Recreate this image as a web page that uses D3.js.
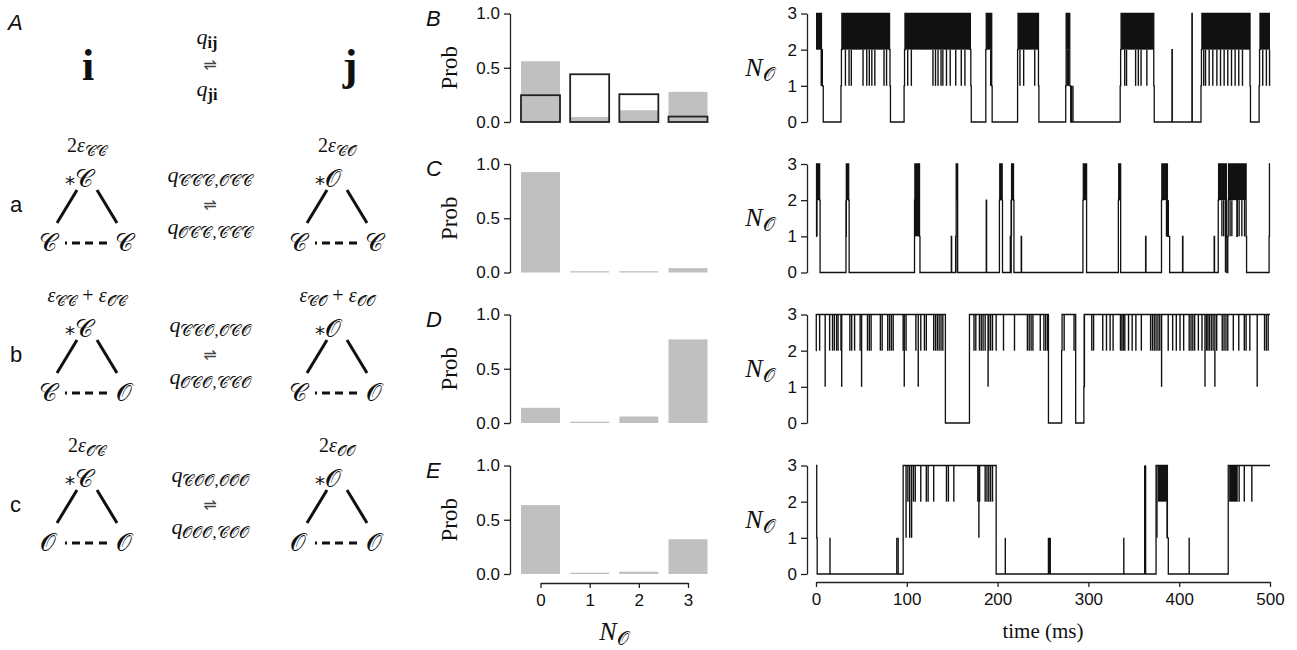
<!DOCTYPE html>
<html>
<head>
<meta charset="utf-8">
<script src="https://cdn.jsdelivr.net/npm/d3@7"></script>
<style>
  body { margin: 0; background: #fff; }
  svg { display: block; }
</style>
</head>
<body>
<div id="fig"></div>
<script>
// ---- data ----
const nOpen = [0, 1, 2, 3];
const probTicks = [0, 0.5, 1];
const levelTicks = [0, 1, 2, 3];
const timeTicks = [0, 100, 200, 300, 400, 500];
const panelNames = ["B", "C", "D", "E"];

// occupancy histograms (gray = simulated, outline = reference in B)
const probB = [0.56, 0.046, 0.108, 0.278];
const probBref = [0.247, 0.44, 0.256, 0.05];
const probC = [0.925, 0.012, 0.012, 0.04];
const probD = [0.14, 0.012, 0.06, 0.77];
const probE = [0.635, 0.012, 0.022, 0.32];

// traces: steps [t, level], dense flicker bands [t0, t1, lo, hi], brief excursions [t, lo, hi]
const stepsB = [[0,3],[6,2],[7,1],[8,0],[27.5,1],[28,2],[28.5,3],[81,2],[81.5,1],[82,0],[97,1],[97.5,2],[98,3],[170,2],[170.5,1],[171,0],[187,2],[187.5,3],[193.5,1],[194,0],[222,2],[222.5,3],[245,1],[245.5,0],[275,1],[275.5,3],[279.5,1],[280.5,0],[335,1],[335.5,2],[336,3],[372,1],[372.5,0],[392,2],[392.4,0],[414,3],[414.4,0],[424,1],[424.5,2],[425,3],[478,1],[478.5,0],[488,1],[488.5,2],[489,3],[500,3]];
const bandsB = [[0,5.5,2,3],[5,7.5,1,2],[28.5,81,2,3],[98,170,2,3],[187.5,193.5,2,3],[222.5,245,2,3],[275.5,279.5,2,3],[276,279,1,2],[336,372,2,3],[425,478,2,3],[489,500,2,3]];
const dipsB = [[32.4,1,2],[36.4,1,2],[38.9,1,2],[51.8,1,2],[55.9,1,2],[58.7,1,2],[61.5,1,2],[64.8,1,2],[74.9,1,2],[77.7,1,2],[101,1,2],[105,1,2],[128.8,1,2],[131.6,1,2],[134.4,1,2],[137.7,1,2],[139.7,1,2],[143.7,1,2],[147.8,1,2],[153.9,1,2],[160,1,2],[164,1,2],[192.4,1,2],[224.6,1,2],[228.7,1,2],[240.9,1,2],[281.5,0,1],[283,0,1],[340,1,2],[342,1,2],[352,1,2],[355,1,2],[358,1,2],[364.4,1,2],[427,1,2],[429,1,2],[433,1,2],[437,1,2],[441.5,1,2],[445.5,1,2],[449.5,1,2],[453.5,1,2],[457.6,1,2],[461.6,1,2],[465.6,1,2],[469.7,1,2],[492,1,2],[496,1,2],[499.5,1,2]];

const stepsC = [[0,1],[0.6,3],[4,2],[4.5,0],[33,1],[33.4,3],[36,2],[36.5,0],[108.5,2],[108.9,3],[114,1],[114.5,0],[149,1],[149.4,0],[154,1],[154.4,3],[156,0],[187.5,2],[187.9,0],[202,2],[202.4,3],[205,2],[205.4,0],[214,1],[214.4,0],[215,2],[215.4,3],[217.5,2],[218,0],[226,1],[226.4,0],[294,2],[294.4,3],[298,0],[333,2],[333.4,3],[335.5,0],[363,1],[363.4,0],[380.5,2],[380.9,3],[387,1],[389.5,0],[403.7,1],[404.1,0],[438.5,1],[438.9,0],[443,2],[443.4,3],[452,1],[452.5,0],[453.5,1],[454,2],[454.4,3],[463.5,1],[464,2],[464.4,3],[473.7,1],[474.2,0],[499,1],[499.4,3],[500,3]];
const bandsC = [[0.6,4,2,3],[33.4,36,2,3],[108.9,114,1,3],[154.4,156,2,3],[202.4,205,2,3],[215.4,217.5,2,3],[294.4,298,2,3],[333.4,335.5,2,3],[380.9,387,2,3],[443.4,452,2,3],[454.4,473.7,2,3]];
const dipsC = [[1,1,2],[33.2,1,2],[153.8,0,1],[215.2,1,2],[386,1,2],[388,1,2],[447,1,2],[449,1,2],[451,0,2],[456,1,2],[458,1,2],[466,1,2],[469,1,2],[472,1,2]];

const stepsD = [[0,2],[0.3,3],[142.5,0],[169,3],[256,0],[270.5,2],[271,3],[286,0],[295,1],[295.5,3],[500,3]];
const bandsD = [];
const dipsD = [[4,2,3],[10.1,1,3],[15,2,3],[18.2,2,3],[20.2,2,3],[22.7,2,3],[24.3,2,3],[27.5,2,3],[28.3,1,3],[37.3,2,3],[39.3,2,3],[42.5,2,3],[48.6,2,3],[50.2,1,3],[56.7,2,3],[58.7,2,3],[60.7,2,3],[70.9,2,3],[72.9,2,3],[79,2,3],[81,2,3],[83,2,3],[85,2,3],[96,2,3],[97.2,1,3],[99.2,2,3],[110,2,3],[112.6,1,3],[115.4,2,3],[119.4,2,3],[121.5,2,3],[129.6,2,3],[131.6,2,3],[133.6,2,3],[135.6,2,3],[137.7,2,3],[139.7,2,3],[174,2,3],[176,2,3],[180,2,3],[182,2,3],[184,2,3],[186.3,2,3],[189.5,1,3],[190.3,2,3],[192.3,2,3],[194.4,2,3],[198.4,2,3],[206.5,2,3],[218.6,2,3],[232.8,2,3],[234.8,2,3],[236.9,2,3],[238.9,2,3],[247,2,3],[251,2,3],[253,2,3],[255,2,3],[273.3,2,3],[284.2,2,3],[295.6,1,3],[303.7,2,3],[305.7,2,3],[315.8,2,3],[319.9,2,3],[323.9,2,3],[327.2,2,3],[335.3,2,3],[336.9,2,3],[338.5,2,3],[340.1,2,3],[344.2,2,3],[348.2,2,3],[352.3,2,3],[358.3,2,3],[368.5,2,3],[370.5,2,3],[372.5,2,3],[374.5,2,3],[376.6,2,3],[378.6,2,3],[380.6,1,3],[387.9,2,3],[392.8,2,3],[396.8,2,3],[400.9,2,3],[404.9,2,3],[411,2,3],[413,2,3],[415,2,3],[417,2,3],[421.1,2,3],[425.1,2,3],[428.4,1,3],[430,2,3],[431.6,2,3],[433.2,2,3],[435.3,2,3],[437.3,2,3],[439.3,1,3],[441.3,2,3],[447.4,2,3],[449.4,2,3],[451.5,2,3],[453.5,2,3],[459.6,2,3],[465.6,2,3],[471.7,2,3],[473.7,2,3],[477.8,2,3],[485.9,1,3],[494,2,3],[496,2,3],[498,2,3]];

const stepsE = [[0,3],[0.8,1],[1.3,0],[96,3],[198.4,0],[374.5,3],[387,1],[388,0],[454,3],[500,3]];
const bandsE = [[376.5,386.7,2,3],[455,464.5,2,3]];
const dipsE = [[15.4,0,1],[89,0,1],[90.5,0,1],[99.2,1,3],[101.2,2,3],[103.2,1,3],[105.3,1,3],[107.3,2,3],[109.3,2,3],[115.4,2,3],[121.5,2,3],[123.5,2,3],[129.6,2,3],[143.7,2,3],[145.8,2,3],[151.8,2,3],[178.2,2,3],[179.4,1,3],[180.2,2,3],[186.3,2,3],[188.3,2,3],[190.3,2,3],[192.3,2,3],[194.4,2,3],[208.5,0,1],[256,0,1],[257,0,1],[258,0,1],[339,0,1],[362,0,3],[363,0,3],[375.5,1,3],[386.7,1,2],[411,0,1],[466,2,3],[471.7,2,3],[480,2,3]];

// scheme labels (panel A)
const C = "\u{1D49E}", O = "\u{1D4AA}";
const rowLetters = ["a", "b", "c"];
const apexI = C, apexJ = O;
const baseStates = [[C, C], [C, O], [O, O]];
const energyI = [
  [["2","n"],["ε","i"],[C+C,"sub"]],
  [["ε","i"],[C+C,"sub"],[" + ","n"],["ε","i"],[O+C,"sub"]],
  [["2","n"],["ε","i"],[O+C,"sub"]]
];
const energyJ = [
  [["2","n"],["ε","i"],[C+O,"sub"]],
  [["ε","i"],[C+O,"sub"],[" + ","n"],["ε","i"],[O+O,"sub"]],
  [["2","n"],["ε","i"],[O+O,"sub"]]
];
const ratesFwd = [C+C+C+","+O+C+C, C+C+O+","+O+C+O, C+O+O+","+O+O+O];
const ratesBwd = [O+C+C+","+C+C+C, O+C+O+","+C+C+O, O+O+O+","+C+O+O];

// ---- drawing ----
const svg = d3.select("#fig").append("svg").attr("width", 1297).attr("height", 650);
const serif = "'Liberation Serif', 'DejaVu Serif', serif";
const sans = "'Liberation Sans', Arial, sans-serif";
const ink = "#111";

function mathText(g, parts, x, y, size, anchor) {
  const t = g.append("text").attr("x", x).attr("y", y)
    .attr("text-anchor", anchor || "middle")
    .attr("font-family", serif).attr("font-size", size).attr("fill", ink);
  let down = false;
  parts.forEach(([s, k]) => {
    const sp = t.append("tspan").text(s);
    if (k === "i") sp.attr("font-style", "italic");
    if (k === "b") sp.attr("font-weight", "bold");
    if (k === "sub" || k === "subb") {
      sp.attr("font-size", size * 0.74).attr("dy", down ? 0 : size * 0.2);
      if (k === "subb") sp.attr("font-weight", "bold");
      down = true;
    } else if (down) {
      sp.attr("dy", -size * 0.2);
      down = false;
    }
  });
  return t;
}

function harpoons(g, x, y) {
  g.append("text").attr("x", x).attr("y", y).attr("text-anchor", "middle")
    .attr("font-family", "'DejaVu Sans'").attr("font-size", 16).attr("fill", "#444").text("⇌");
}

// panel A
const gA = svg.append("g");
gA.append("text").attr("x", 8).attr("y", 30).attr("font-family", sans)
  .attr("font-style", "italic").attr("font-size", 22).attr("fill", ink).text("A");
gA.append("text").attr("x", 88).attr("y", 80).attr("text-anchor", "middle")
  .attr("font-family", serif).attr("font-weight", "bold").attr("font-size", 44).attr("fill", ink).text("i");
gA.append("text").attr("x", 350).attr("y", 80).attr("text-anchor", "middle")
  .attr("font-family", serif).attr("font-weight", "bold").attr("font-size", 44).attr("fill", ink).text("j");
mathText(gA, [["q","i"],["ij","subb"]], 207, 44, 22);
harpoons(gA, 210, 70);
mathText(gA, [["q","i"],["ji","subb"]], 207, 96, 22);

function drawState(cx, yTop, apex, base, energy) {
  mathText(gA, energy, cx, yTop, 20);
  gA.append("text").attr("x", cx - 12).attr("y", yTop + 38).attr("text-anchor", "end")
    .attr("font-family", "'DejaVu Sans'").attr("font-size", 20).attr("fill", ink).text("*");
  gA.append("text").attr("x", cx - 12).attr("y", yTop + 35).attr("text-anchor", "start")
    .attr("font-family", serif).attr("font-size", 25).attr("fill", ink).text(apex);
  gA.append("line").attr("x1", cx - 10).attr("y1", yTop + 38).attr("x2", cx - 30).attr("y2", yTop + 71)
    .attr("stroke", ink).attr("stroke-width", 3);
  gA.append("line").attr("x1", cx + 10).attr("y1", yTop + 38).attr("x2", cx + 30).attr("y2", yTop + 71)
    .attr("stroke", ink).attr("stroke-width", 3);
  gA.append("text").attr("x", cx - 39).attr("y", yTop + 99).attr("text-anchor", "middle")
    .attr("font-family", serif).attr("font-size", 25).attr("fill", ink).text(base[0]);
  gA.append("text").attr("x", cx + 37).attr("y", yTop + 99).attr("text-anchor", "middle")
    .attr("font-family", serif).attr("font-size", 25).attr("fill", ink).text(base[1]);
  gA.append("line").attr("x1", cx - 22).attr("y1", yTop + 91).attr("x2", cx + 22).attr("y2", yTop + 91)
    .attr("stroke", ink).attr("stroke-width", 3).attr("stroke-dasharray", "2 5 8 5 8 6 8");
}

rowLetters.forEach((r, k) => {
  const yTop = 152 + 150 * k;
  gA.append("text").attr("x", 10).attr("y", yTop + 60).attr("font-family", sans)
    .attr("font-size", 22).attr("fill", ink).text(r);
  drawState(87, yTop, apexI, baseStates[k], energyI[k]);
  drawState(337, yTop, apexJ, baseStates[k], energyJ[k]);
  mathText(gA, [["q","i"],[ratesFwd[k],"sub"]], 210, yTop + 30, 22);
  harpoons(gA, 210, yTop + 58);
  mathText(gA, [["q","i"],[ratesBwd[k],"sub"]], 210, yTop + 82, 22);
});

// panels B-E
const panelTops = [13.5, 164, 314.5, 465.5];
const panelH = 108.5;
const probs = [probB, probC, probD, probE];
const traces = [
  { steps: stepsB, bands: bandsB, dips: dipsB },
  { steps: stepsC, bands: bandsC, dips: dipsC },
  { steps: stepsD, bands: bandsD, dips: dipsD },
  { steps: stepsE, bands: bandsE, dips: dipsE }
];

const xBar = d3.scalePoint().domain(nOpen).range([540.5, 688]);
const barW = 39;
const xT = d3.scaleLinear().domain([0, 500]).range([816, 1270]);

function styleAxis(g) {
  g.select(".domain").attr("stroke", "#222").attr("stroke-width", 1.3);
  g.selectAll(".tick line").attr("stroke", "#222").attr("stroke-width", 1.3);
  g.selectAll(".tick text").attr("font-family", sans).attr("font-size", 17).attr("fill", ink);
}

function nLabel(g, x, y, size) {
  mathText(g, [["N","i"],[O,"sub"]], x, y, size);
}

panelTops.forEach((top, p) => {
  const g = svg.append("g");
  g.append("text").attr("x", 426).attr("y", top + 12).attr("font-family", sans)
    .attr("font-style", "italic").attr("font-size", 22).attr("fill", ink).text(panelNames[p]);

  // histogram
  const y = d3.scaleLinear().domain([0, 1]).range([top + panelH, top]);
  g.selectAll("rect.gray").data(probs[p]).enter().append("rect")
    .attr("class", "gray")
    .attr("x", (d, i) => xBar(nOpen[i]) - barW / 2)
    .attr("width", barW)
    .attr("y", d => y(d))
    .attr("height", d => y(0) - y(d))
    .attr("fill", "#c0c0c0");
  if (p === 0) {
    g.selectAll("rect.ref").data(probBref).enter().append("rect")
      .attr("class", "ref")
      .attr("x", (d, i) => xBar(nOpen[i]) - barW / 2)
      .attr("width", barW)
      .attr("y", d => y(d))
      .attr("height", d => y(0) - y(d))
      .attr("fill", "none").attr("stroke", "#222").attr("stroke-width", 1.8);
  }
  const ya = g.append("g").attr("transform", "translate(510,0)")
    .call(d3.axisLeft(y).tickValues(probTicks).tickFormat(d3.format(".1f")).tickSize(6).tickSizeOuter(0).tickPadding(4));
  styleAxis(ya);
  g.append("text").attr("transform", `translate(457,${top + panelH / 2}) rotate(-90)`)
    .attr("text-anchor", "middle").attr("font-family", serif).attr("font-size", 23)
    .attr("fill", ink).text("Prob");

  // trace
  const yT = d3.scaleLinear().domain([0, 3]).range([top + panelH, top]);
  const tr = traces[p];
  g.selectAll("rect.band").data(tr.bands).enter().append("rect")
    .attr("class", "band")
    .attr("x", d => xT(d[0])).attr("width", d => xT(d[1]) - xT(d[0]))
    .attr("y", d => yT(d[3])).attr("height", d => yT(d[2]) - yT(d[3]))
    .attr("fill", ink);
  g.selectAll("line.dip").data(tr.dips).enter().append("line")
    .attr("class", "dip")
    .attr("x1", d => xT(d[0])).attr("x2", d => xT(d[0]))
    .attr("y1", d => yT(d[1])).attr("y2", d => yT(d[2]))
    .attr("stroke", ink).attr("stroke-width", 1.4);
  const line = d3.line().x(d => xT(d[0])).y(d => yT(d[1])).curve(d3.curveStepAfter);
  g.append("path").datum(tr.steps).attr("d", line)
    .attr("fill", "none").attr("stroke", ink).attr("stroke-width", 1.3);
  const yaT = g.append("g").attr("transform", "translate(807,0)")
    .call(d3.axisLeft(yT).tickValues(levelTicks).tickFormat(d3.format("d")).tickSize(6).tickSizeOuter(0).tickPadding(4));
  styleAxis(yaT);
  nLabel(g, 760, top + 62, 26);

  if (p === 3) {
    const xa = g.append("g").attr("transform", `translate(0,${top + panelH + 9})`)
      .call(d3.axisBottom(xBar).tickSize(5).tickSizeOuter(0).tickPadding(6));
    styleAxis(xa);
    const xta = g.append("g").attr("transform", `translate(0,${top + panelH + 8})`)
      .call(d3.axisBottom(xT).tickValues(timeTicks).tickSize(5).tickSizeOuter(0).tickPadding(6));
    styleAxis(xta);
    nLabel(g, 614, 640, 26);
    g.append("text").attr("x", 1043).attr("y", 638).attr("text-anchor", "middle")
      .attr("font-family", serif).attr("font-size", 21).attr("fill", ink).text("time (ms)");
  }
});
</script>
</body>
</html>
